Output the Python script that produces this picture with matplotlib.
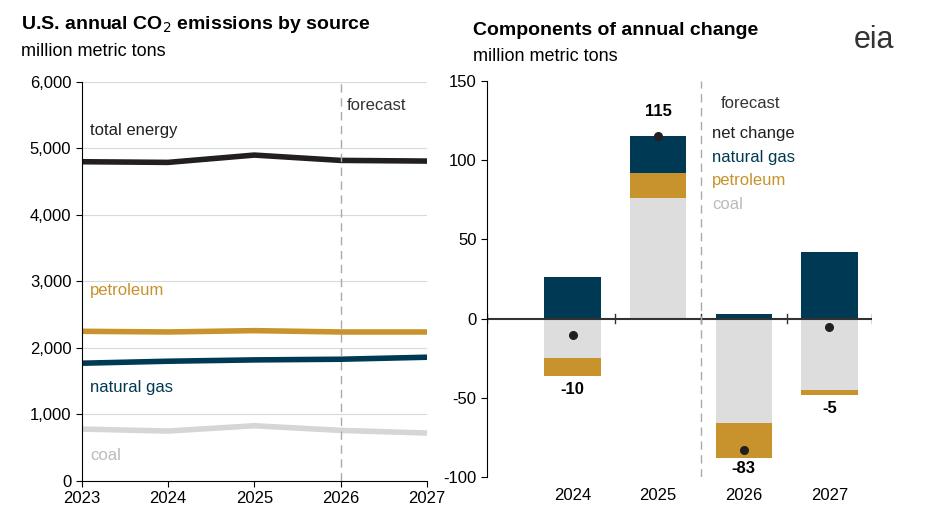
import matplotlib
matplotlib.use("Agg")
import matplotlib.pyplot as plt
import numpy as np

plt.rcParams['font.family'] = ['Liberation Sans', 'DejaVu Sans']
plt.rcParams['axes.unicode_minus'] = False

years = [2023, 2024, 2025, 2026, 2027]
total = [4800, 4790, 4900, 4820, 4810]
petroleum = [2250, 2240, 2260, 2240, 2240]
natgas = [1770, 1800, 1820, 1830, 1860]
coal = [780, 750, 830, 760, 720]

chg_years = ['2024', '2025', '2026', '2027']
chg_coal = [-25, 76, -66, -45]
chg_pet = [-11, 16, -22, -3]
chg_gas = [26, 23, 3, 42]
net = [-10, 115, -83, -5]

C_TOT = '#231f20'; C_PET = '#c8922c'; C_GAS = '#003953'; C_COAL = '#d6d6d6'; C_COALBAR = '#dddddd'

fig = plt.figure(figsize=(9.4, 5.32), dpi=100)
ax1 = fig.add_axes([0.087, 0.096, 0.367, 0.75])
ax2 = fig.add_axes([0.518, 0.103, 0.41, 0.745])

# left
for v in range(1000, 7000, 1000):
    ax1.axhline(v, color='#d9d9d9', lw=0.8, zorder=0)
ax1.plot(years, total, color=C_TOT, lw=4)
ax1.plot(years, petroleum, color=C_PET, lw=4)
ax1.plot(years, natgas, color=C_GAS, lw=4)
ax1.plot(years, coal, color=C_COAL, lw=4)
ax1.axvline(2026, color='#aaaaaa', ls=(0, (6, 4)), lw=1)
ax1.set_xlim(2023, 2027); ax1.set_ylim(0, 6000)
ax1.set_xticks(years); ax1.set_yticks(range(0, 7000, 1000))
ax1.set_yticklabels([f"{v:,}" for v in range(0, 7000, 1000)])
for s in ['top', 'right']: ax1.spines[s].set_visible(False)
ax1.tick_params(labelsize=12, length=4)
ax1.text(2023.1, 5200, 'total energy', fontsize=12, color=C_TOT)
ax1.text(2023.1, 2800, 'petroleum', fontsize=12, color=C_PET)
ax1.text(2023.1, 1330, 'natural gas', fontsize=12, color=C_GAS)
ax1.text(2023.1, 320, 'coal', fontsize=12, color='#bbbbbb')
ax1.text(2026.07, 5580, 'forecast', fontsize=12, color='#333333')

# right
x = np.arange(4)
w = 0.66
ax2.bar(x, chg_coal, w, color=C_COALBAR)
ax2.bar(x, chg_pet, w, bottom=chg_coal, color=C_PET)
ax2.bar(x, chg_gas, w, bottom=[c + p if c + p > 0 else 0 for c, p in zip(chg_coal, chg_pet)], color=C_GAS)
ax2.plot(x, net, 'o', color=C_TOT, ms=5.5, zorder=5)
for i, v in enumerate(net):
    if v > 50:
        ax2.text(i, v + 11, f"{v}", ha='center', va='bottom', fontsize=12, fontweight='bold')
ax2.text(0, -40, '-10', ha='center', va='top', fontsize=12, fontweight='bold')
ax2.text(2, -90, '-83', ha='center', va='top', fontsize=12, fontweight='bold')
ax2.text(3, -52, '-5', ha='center', va='top', fontsize=12, fontweight='bold')
ax2.axhline(0, color='#333333', lw=1.5)
for t in [-1, 0.5, 1.5, 2.5, 3.5]:
    ax2.plot([t, t], [-3, 3], color='#333333', lw=1)
ax2.axvline(1.5, color='#aaaaaa', ls=(0, (6, 4)), lw=1)
ax2.set_xlim(-1, 3.5); ax2.set_ylim(-100, 150)
ax2.set_xticks(x); ax2.set_xticklabels(chg_years)
ax2.set_yticks(range(-100, 200, 50))
for s in ['top', 'right', 'bottom']: ax2.spines[s].set_visible(False)
ax2.tick_params(axis='x', length=0, labelsize=12, pad=8)
ax2.tick_params(axis='y', labelsize=12, length=4)
ax2.text(1.73, 133, 'forecast', fontsize=12, color='#333333')
ax2.text(1.63, 114, 'net change', fontsize=12, color=C_TOT)
ax2.text(1.63, 99, 'natural gas', fontsize=12, color=C_GAS)
ax2.text(1.63, 84, 'petroleum', fontsize=12, color=C_PET)
ax2.text(1.63, 69, 'coal', fontsize=12, color='#bbbbbb')

fig.text(0.022, 0.945, 'U.S. annual CO$_2$ emissions by source', fontsize=14, fontweight='bold')
fig.text(0.022, 0.895, 'million metric tons', fontsize=13)
fig.text(0.503, 0.935, 'Components of annual change', fontsize=14, fontweight='bold')
fig.text(0.503, 0.885, 'million metric tons', fontsize=13)
fig.text(0.93, 0.91, 'eia', fontsize=22, color='#333333', ha='center')
fig.savefig('out.png', dpi=100)
